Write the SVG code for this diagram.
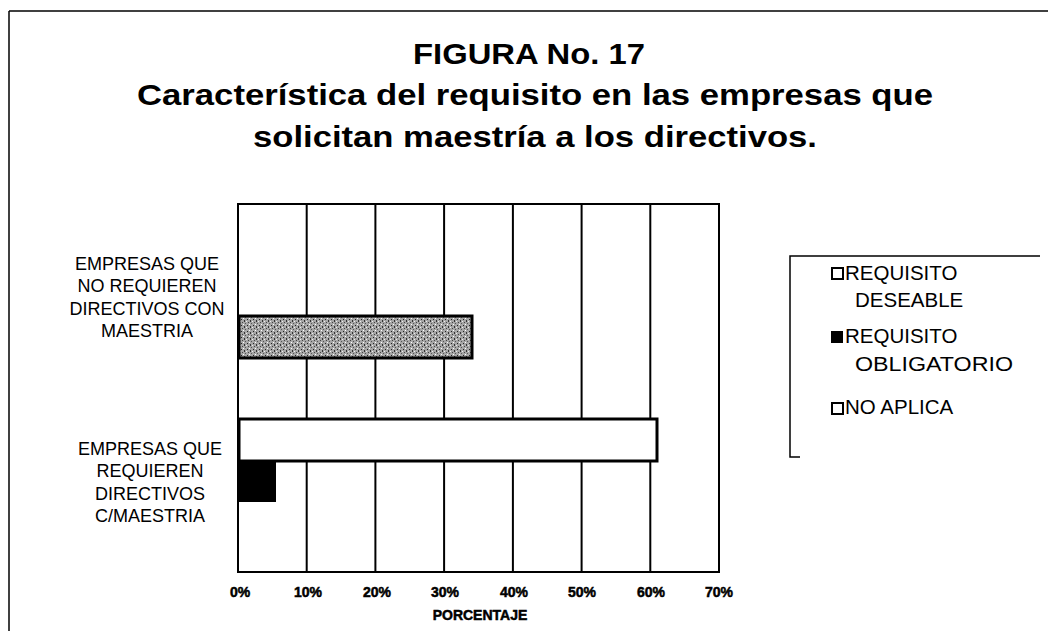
<svg xmlns="http://www.w3.org/2000/svg" width="1048" height="631" viewBox="0 0 1048 631">
<style>
.title{font-family:"Liberation Sans",Arial,sans-serif;font-weight:bold;font-size:30px;fill:#000}
.cat{font-family:"Liberation Sans",Arial,sans-serif;font-size:18px;fill:#000;text-anchor:middle}
.leg{font-family:"Liberation Sans",Arial,sans-serif;font-size:20.5px;fill:#000}
.tick{font-family:"Liberation Sans",Arial,sans-serif;font-weight:bold;font-size:14px;fill:#000;stroke:#000;stroke-width:0.5;text-anchor:middle}
.grid{stroke:#000;stroke-width:2;fill:none}
.frame{stroke:#000;stroke-width:1.5;fill:none}
.bar{stroke:#000;stroke-width:3}
</style>
<defs>
<pattern id="stip" width="6" height="6" patternUnits="userSpaceOnUse">
<rect width="6" height="6" fill="#a6a6a6"/>
<rect x="1" y="1" width="1" height="1" fill="#222"/>
<rect x="4" y="2" width="1" height="2" fill="#333"/>
<rect x="2" y="4" width="1" height="1" fill="#444"/>
<rect x="5" y="5" width="1" height="1" fill="#555"/>
<rect x="0" y="3" width="1" height="1" fill="#eee"/>
<rect x="3" y="0" width="1" height="1" fill="#fff"/>
</pattern>
</defs>
<rect width="1048" height="631" fill="#fff"/>
<g id="frame">
<line class="frame" x1="9" y1="11" x2="1048" y2="11"/>
<line class="frame" x1="9" y1="11" x2="9" y2="631"/>
</g>
<g id="title">
<text class="title" x="413" y="64" textLength="232" lengthAdjust="spacingAndGlyphs">FIGURA No. 17</text>
<text class="title" x="137" y="105" textLength="796" lengthAdjust="spacingAndGlyphs">Característica del requisito en las empresas que</text>
<text class="title" x="253" y="147" textLength="564" lengthAdjust="spacingAndGlyphs">solicitan maestría a los directivos.</text>
</g>
<g id="plot">
<rect class="grid" x="238" y="204" width="481" height="368" stroke-width="2.5"/>
<line class="grid" x1="306.7" y1="204" x2="306.7" y2="572"/>
<line class="grid" x1="375.4" y1="204" x2="375.4" y2="572"/>
<line class="grid" x1="444.1" y1="204" x2="444.1" y2="572"/>
<line class="grid" x1="512.9" y1="204" x2="512.9" y2="572"/>
<line class="grid" x1="581.6" y1="204" x2="581.6" y2="572"/>
<line class="grid" x1="650.3" y1="204" x2="650.3" y2="572"/>
</g>
<g id="bars">
<rect id="bar-no-requieren" class="bar" x="239" y="316" width="233" height="42" fill="url(#stip)"/>
<rect id="bar-requieren-no-aplica" class="bar" x="239" y="419" width="418" height="42" fill="#fff"/>
<rect id="bar-requieren-obligatorio" x="238" y="461" width="38" height="41" fill="#000"/>
</g>
<g id="axis-labels">
<text class="tick" x="240" y="597">0%</text>
<text class="tick" x="308" y="597">10%</text>
<text class="tick" x="377" y="597">20%</text>
<text class="tick" x="445" y="597">30%</text>
<text class="tick" x="514" y="597">40%</text>
<text class="tick" x="582" y="597">50%</text>
<text class="tick" x="651" y="597">60%</text>
<text class="tick" x="719" y="597">70%</text>
<text class="tick" x="480" y="620">PORCENTAJE</text>
</g>
<g id="cat-no-requieren">
<text class="cat" x="147" y="270">EMPRESAS QUE</text>
<text class="cat" x="147" y="292">NO REQUIEREN</text>
<text class="cat" x="147" y="315">DIRECTIVOS CON</text>
<text class="cat" x="147" y="337">MAESTRIA</text>
</g>
<g id="cat-requieren">
<text class="cat" x="150" y="455">EMPRESAS QUE</text>
<text class="cat" x="150" y="477">REQUIEREN</text>
<text class="cat" x="150" y="500">DIRECTIVOS</text>
<text class="cat" x="150" y="522">C/MAESTRIA</text>
</g>
<g id="legend">
<path class="frame" d="M1040 256 H790 V457 H800"/>
<rect x="832" y="268" width="11" height="11" fill="#fff" stroke="#000" stroke-width="2"/>
<text class="leg" x="845" y="280">REQUISITO</text>
<text class="leg" x="855" y="307">DESEABLE</text>
<rect x="831" y="331" width="12" height="12" fill="#000"/>
<text class="leg" x="845" y="343">REQUISITO</text>
<text class="leg" x="855" y="371" textLength="158" lengthAdjust="spacingAndGlyphs">OBLIGATORIO</text>
<rect x="832" y="403" width="11" height="11" fill="#fff" stroke="#000" stroke-width="2"/>
<text class="leg" x="845" y="414">NO APLICA</text>
</g>
</svg>
